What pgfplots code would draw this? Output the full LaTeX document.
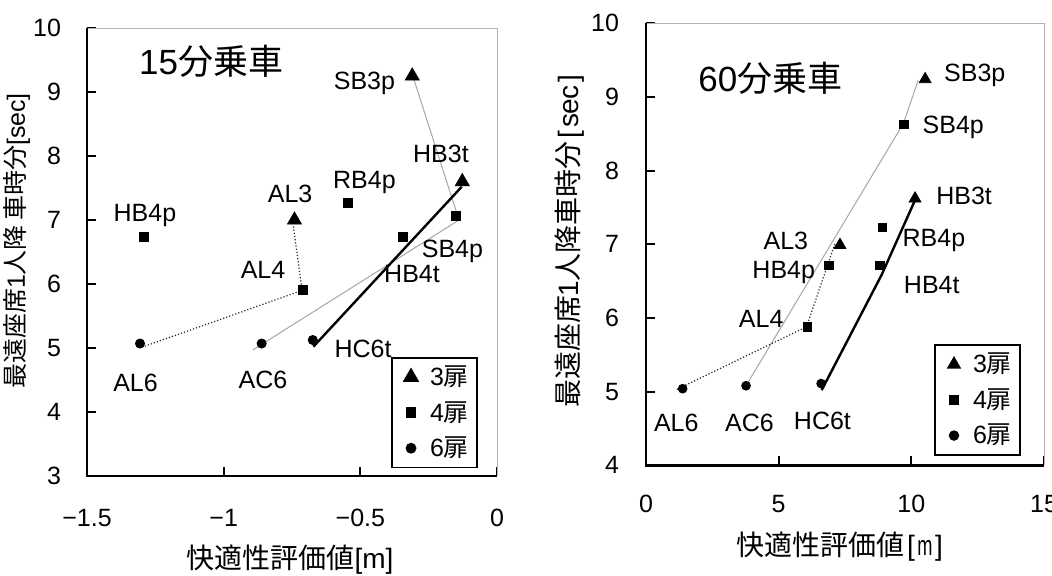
\documentclass[border=0pt]{standalone}
\usepackage{fontspec}
\setmainfont{Liberation Sans}
\newfontfamily\jp{Noto Sans CJK JP}
\usepackage{pgfplots}
\pgfplotsset{compat=1.18}
\newcommand{\hw}[1]{\makebox[0.5em][c]{#1}}
\newcommand{\lbl}{\fontsize{12.5}{14}\selectfont}
\pgfplotsset{
  myaxis/.style={
    scale only axis, clip=false,
    axis line style={draw=none},
    tick pos=left, tick align=inside,
    major tick length=4.7pt,
    every tick/.style={black, line width=0.9pt},
    /pgf/number format/assume math mode=true,
    tick label style={font=\fontsize{12.5}{14}\selectfont},
    legend cell align=left,
    legend image code/.code={\path (0,0) (0.5cm,0); \draw[##1] plot coordinates {(0.25cm,0cm)};},
    legend style={anchor=south east, draw=black, line width=0.8pt,
      font=\fontsize{12.5}{14}\selectfont, inner xsep=2pt, inner ysep=2pt,
      row sep=2.4pt, nodes={inner ysep=2pt}},
  },
  frame/.style={},
}
\begin{document}
\begin{tikzpicture}
\useasboundingbox (0,0) rectangle (526pt,287.5pt);
% ---------------- left ----------------
\begin{axis}[myaxis,
  at={(43.5pt,49.5pt)}, anchor=south west,
  width=205pt, height=224pt,
  xmin=-1.5, xmax=0, ymin=3, ymax=10,
  xtick={-1.5,-1,-0.5,0}, xticklabels={−1.5,−1,−0.5,0},
  ytick={3,4,5,6,7,8,9,10},
  xticklabel style={anchor=center, yshift=-21pt},
  yticklabel style={anchor=east, xshift=-9.5pt},
  xlabel={{\jp 快適性評価値}[m]},
  xlabel style={at={([yshift=-42pt]rel axis cs:0.495,0)}, anchor=center, font=\fontsize{14}{16}\selectfont},
  ylabel={{\jp 最遠座席}1{\jp 人降}\,{\jp 車時分}[sec]},
  ylabel style={at={([xshift=-35pt]rel axis cs:0,0.5246)}, anchor=center, font=\fontsize{12.5}{14}\selectfont},
  legend style={at={(rel axis cs:0.953,0.017)}},
]
\addplot[forget plot, gray!70, line width=0.5pt] coordinates {(-0.3035,9.19) (-0.139,7.0) (-0.893,4.97)};
\addplot[forget plot, black, line width=1.2pt] coordinates {(-0.129,7.52) (-0.672,5.02)};
\addplot[forget plot, black!85, densely dotted, line width=0.6pt] coordinates {(-0.745,6.90) (-0.713,5.90) (-1.294,5.02)};
\addplot[only marks, mark=triangle*, mark size=4pt, black] coordinates {(-0.31,9.25) (-0.127,7.60) (-0.741,7.0)};
\addlegendentry{3{\jp 扉}}
\addplot[only marks, mark=square*, mark size=2.3pt, black] coordinates {(-0.546,7.27) (-1.291,6.73) (-0.151,7.07) (-0.343,6.73) (-0.711,5.91)};
\addlegendentry{4{\jp 扉}}
\addplot[only marks, mark=*, mark size=2.3pt, black] coordinates {(-1.306,5.07) (-0.861,5.07) (-0.674,5.125)};
\addlegendentry{6{\jp 扉}}
\draw[gray!60, line width=0.5pt] (rel axis cs:0,1) -- (rel axis cs:1,1) -- (rel axis cs:1,0);
\draw[black, line width=1.3pt] (rel axis cs:0,1) -- (rel axis cs:0,0) -- (rel axis cs:1,0);
\node[anchor=base, font=\fontsize{17.5}{20}\selectfont] at (axis cs:-1.046,9.27) {15{\jp 分乗車}};
\node[anchor=base, font=\lbl] at (axis cs:-0.485,9.047) {SB3p};
\node[anchor=base, font=\lbl] at (axis cs:-0.205,7.906) {HB3t};
\node[anchor=base, font=\lbl] at (axis cs:-0.485,7.50) {RB4p};
\node[anchor=base, font=\lbl] at (axis cs:-0.757,7.28) {AL3};
\node[anchor=base, font=\lbl] at (axis cs:-1.288,6.97) {HB4p};
\node[anchor=base, font=\lbl] at (axis cs:-0.163,6.42) {SB4p};
\node[anchor=base, font=\lbl] at (axis cs:-0.856,6.09) {AL4};
\node[anchor=base, font=\lbl] at (axis cs:-0.311,6.03) {HB4t};
\node[anchor=base, font=\lbl] at (axis cs:-1.3225,4.32) {AL6};
\node[anchor=base, font=\lbl] at (axis cs:-0.856,4.375) {AC6};
\node[anchor=base, font=\lbl] at (axis cs:-0.490,4.85) {HC6t};
\end{axis}
% ---------------- right ----------------
\begin{axis}[myaxis,
  at={(323pt,54.85pt)}, anchor=south west,
  width=199pt, height=221pt,
  xmin=0, xmax=15, ymin=4, ymax=10,
  xtick={0,5,10,15}, ytick={4,5,6,7,8,9,10},
  xticklabel style={anchor=center, yshift=-19.35pt},
  yticklabel style={anchor=east, xshift=-10pt},
  xlabel={{\jp 快適性評価値}\hw{[}\hw{\scalebox{0.65}[1]{m}}\hw{]}},
  xlabel style={at={([yshift=-40.8pt]rel axis cs:0.49,0)}, anchor=center, font=\fontsize{14}{16}\selectfont},
  ylabel={{\jp 最遠座席}\hw{1}{\jp 人降車時分}\hw{[}\hw{s}\hw{e}\hw{c}\hw{]}},
  ylabel style={at={([xshift=-38pt]rel axis cs:0,0.51)}, anchor=center, font=\fontsize{14}{16}\selectfont},
  legend style={at={(rel axis cs:0.9415,0.0217)}},
]
\addplot[forget plot, gray!70, line width=0.5pt] coordinates {(10.26,9.23) (9.70,8.64) (3.80,5.10)};
\addplot[forget plot, black, line width=1.2pt] coordinates {(10.14,7.60) (8.88,6.585) (6.62,5.02)};
\addplot[forget plot, black!85, densely dotted, line width=0.6pt] coordinates {(1.16,5.03) (6.05,5.88) (7.12,7.01)};
\addplot[only marks, mark=triangle*, mark size=3.4pt, black] coordinates {(10.52,9.24) (10.14,7.62) (7.31,6.99)};
\addlegendentry{3{\jp 扉}}
\addplot[only marks, mark=square*, mark size=2.1pt, black] coordinates {(9.72,8.63) (8.90,7.23) (6.90,6.71) (8.82,6.71) (6.08,5.88)};
\addlegendentry{4{\jp 扉}}
\addplot[only marks, mark=*, mark size=2.2pt, black] coordinates {(1.38,5.04) (3.77,5.08) (6.60,5.11)};
\addlegendentry{6{\jp 扉}}
\draw[gray!60, line width=0.5pt] (rel axis cs:0,1) -- (rel axis cs:1,1) -- (rel axis cs:1,0);
\draw[black, line width=1.3pt] (rel axis cs:0,1) -- (rel axis cs:0,0) -- (rel axis cs:1,0);
\node[anchor=base, font=\fontsize{17.5}{20}\selectfont] at (axis cs:4.69,9.072) {60{\jp 分乗車}};
\node[anchor=base, font=\lbl] at (axis cs:12.39,9.208) {SB3p};
\node[anchor=base, font=\lbl] at (axis cs:11.58,8.507) {SB4p};
\node[anchor=base, font=\lbl] at (axis cs:11.99,7.535) {HB3t};
\node[anchor=base, font=\lbl] at (axis cs:10.85,6.969) {RB4p};
\node[anchor=base, font=\lbl] at (axis cs:5.27,6.924) {AL3};
\node[anchor=base, font=\lbl] at (axis cs:5.19,6.54) {HB4p};
\node[anchor=base, font=\lbl] at (axis cs:10.77,6.337) {HB4t};
\node[anchor=base, font=\lbl] at (axis cs:4.34,5.875) {AL4};
\node[anchor=base, font=\lbl] at (axis cs:1.14,4.459) {AL6};
\node[anchor=base, font=\lbl] at (axis cs:3.90,4.459) {AC6};
\node[anchor=base, font=\lbl] at (axis cs:6.65,4.48) {HC6t};
\end{axis}
\end{tikzpicture}
\end{document}
